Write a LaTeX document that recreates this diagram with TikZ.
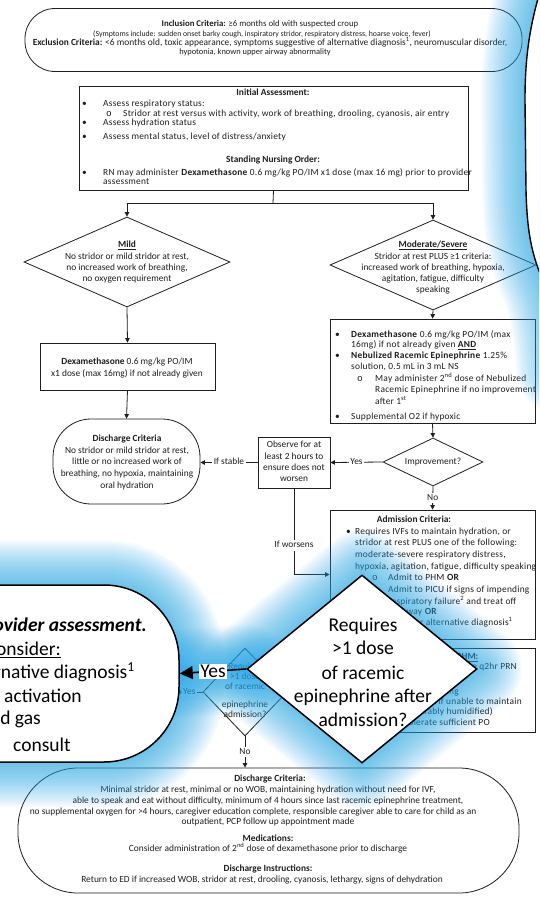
\documentclass[tikz,border=0pt]{standalone}
\usepackage{fontspec}
\setmainfont{Carlito}
\newfontfamily\spacedfam[LetterSpace=2.5,BoldFeatures={LetterSpace=2.5}]{Carlito}
\newfontfamily\monof{Liberation Mono}
\usetikzlibrary{arrows.meta,shapes.geometric}
\pgfdeclarelayer{chart}
\pgfdeclarelayer{halo}
\pgfsetlayers{chart,halo,main}
\definecolor{inkc}{RGB}{30,30,30}
\definecolor{glowc}{RGB}{40,170,235}
\newcommand{\smallfnt}{\fontsize{9.4}{11}\selectfont}
\newcommand{\listfnt}{\spacedfam\fontsize{9.4}{11}\selectfont}
\newcommand{\bigfnt}{\fontsize{19.5}{24}\selectfont}
\newcommand{\subbul}{{\monof o}}
% soft blue halo: many wide, faint strokes along a path
\newcommand{\halo}[1]{\foreach \w in {4,8,...,88}{\draw[glowc,line width=\w pt,opacity=0.045,line join=round,line cap=round] #1;}}
\begin{document}
\begin{tikzpicture}[x=1pt,y=-1pt,
  txt/.style={inner sep=0pt,font=\smallfnt,text=inkc,text height=6.6pt,text depth=2pt},
  ltxt/.style={txt,font=\listfnt,anchor=west},
  rtxt/.style={txt,font=\listfnt,anchor=east},
  btxt/.style={inner sep=0pt,font=\bigfnt,text=black,text height=13.5pt,text depth=4pt},
  chartbox/.style={draw=inkc,line width=0.8pt,inner sep=0pt,rectangle},
  dia/.style={draw=inkc,line width=0.8pt,inner sep=0pt,diamond},
  ln/.style={draw=inkc,line width=0.8pt},
  arr/.style={ln,-{Triangle[length=4.5pt,width=4.5pt]}},
  lbl/.style={txt,fill=white,inner xsep=1.5pt,inner ysep=1pt},
]
\useasboundingbox (0,0) rectangle (539,903);

\begin{pgfonlayer}{chart}
\fill[white] (0,0) rectangle (539,903);
% ---------- inclusion / exclusion ----------
\node[chartbox,rounded corners=30pt,minimum width=497pt,minimum height=63pt] (incl) at (273.5,40) {};
\node[txt,font=\fontsize{8.8}{10}\selectfont] (t1) at (260,24) {\textbf{Inclusion Criteria:} ≥6 months old with suspected croup};
\node[txt,font=\fontsize{7.8}{9}\selectfont] (t2) at (262,34) {(Symptoms include: sudden onset barky cough, inspiratory stridor, respiratory distress, hoarse voice, fever)};
\node[txt] (t3) at (270,43) {\textbf{Exclusion Criteria:} <6 months old, toxic appearance, symptoms suggestive of alternative diagnosis\textsuperscript{1}, neuromuscular disorder,};
\node[txt,font=\fontsize{8.4}{10}\selectfont] (t4) at (255,52) {hypotonia, known upper airway abnormality};

% ---------- initial assessment ----------
\node[chartbox,minimum width=389pt,minimum height=104pt] (init) at (273.5,138) {};
\node[txt] (i1) at (273,93) {\textbf{Initial Assessment:}};
\node[ltxt] (ib1) at (82,104) {•};
\node[ltxt] (i2) at (103,104) {Assess respiratory status:};
\node[ltxt] (ib2) at (106,114) {\subbul};
\node[ltxt] (i3) at (123,114) {Stridor at rest versus with activity, work of breathing, drooling, cyanosis, air entry};
\node[ltxt] (ib3) at (82,123) {•};
\node[ltxt] (i4) at (103,123) {Assess hydration status};
\node[ltxt] (ib4) at (82,137) {•};
\node[ltxt] (i5) at (103,137) {Assess mental status, level of distress/anxiety};
\node[txt] (i6) at (273,160) {\textbf{Standing Nursing Order:}};
\node[ltxt] (ib5) at (82,173) {•};
\node[ltxt] (i7) at (103,173) {RN may administer \textbf{Dexamethasone} 0.6 mg/kg PO/IM x1 dose (max 16 mg) prior to provider};
\node[ltxt] (i8) at (103,182) {assessment};

% ---------- severity split ----------
\node[dia,minimum width=206pt,minimum height=90pt] (mild) at (127,262) {};
\node[txt] (m1) at (127,245) {\underline{\textbf{Mild}}};
\node[txt] (m2) at (127,257) {No stridor or mild stridor at rest,};
\node[txt] (m3) at (127,268) {no increased work of breathing,};
\node[txt] (m4) at (127,279) {no oxygen requirement};

\node[dia,minimum width=206pt,minimum height=90pt] (mod) at (433,265) {};
\node[txt] (s1) at (433,245) {\underline{\textbf{Moderate/Severe}}};
\node[txt] (s2) at (433,257) {Stridor at rest PLUS ≥1 criteria:};
\node[txt] (s3) at (433,268) {increased work of breathing, hypoxia,};
\node[txt] (s4) at (433,279) {agitation, fatigue, difficulty};
\node[txt] (s5) at (433,290) {speaking};

\coordinate (sp) at (273,203);
\draw[ln] (init.south) -- (sp);
\draw[arr] (sp) -| (mild.north);
\draw[arr] (sp) -| (mod.north);

% ---------- mild branch ----------
\node[chartbox,minimum width=175pt,minimum height=47pt] (mdexa) at (127.5,366.5) {};
\node[txt] (d1) at (127,362) {\textbf{Dexamethasone} 0.6 mg/kg PO/IM};
\node[txt] (d2) at (127,374) {x1 dose (max 16mg) if not already given};

\node[chartbox,rounded corners=38pt,minimum width=147pt,minimum height=85pt] (dis1) at (126.5,461.5) {};
\node[txt] (e1) at (127,439) {\textbf{Discharge Criteria}};
\node[txt] (e2) at (127,451) {No stridor or mild stridor at rest,};
\node[txt] (e3) at (127,462) {little or no increased work of};
\node[txt] (e4) at (127,474) {breathing, no hypoxia, maintaining};
\node[txt] (e5) at (127,486) {oral hydration};

\draw[arr] (mild.south) -- (mdexa.north);
\draw[arr] (mdexa.south) -- (dis1.north);

% ---------- moderate / severe branch ----------
\node[chartbox,minimum width=205pt,minimum height=104pt] (treat) at (432.5,371) {};
\node[ltxt] (rb1) at (335,335) {•};
\node[ltxt] (r1) at (351,335) {\textbf{Dexamethasone} 0.6 mg/kg PO/IM (max};
\node[ltxt] (r2) at (351,345) {16mg) if not already given \underline{\textbf{AND}}};
\node[ltxt] (rb2) at (335,356) {•};
\node[ltxt] (r3) at (351,356) {\textbf{Nebulized Racemic Epinephrine} 1.25\%};
\node[ltxt] (r4) at (351,367) {solution, 0.5 mL in 3 mL NS};
\node[ltxt] (rb3) at (357,379) {\subbul};
\node[ltxt] (r5) at (375,379) {May administer 2\textsuperscript{nd} dose of Nebulized};
\node[ltxt] (r6) at (375,390) {Racemic Epinephrine if no improvement};
\node[ltxt] (r7) at (375,402) {after 1\textsuperscript{st}};
\node[ltxt] (rb4) at (335,417) {•};
\node[ltxt] (r8) at (351,417) {Supplemental O2 if hypoxic};

\node[dia,minimum width=100pt,minimum height=48pt] (impr) at (433,462) {};
\node[txt] (im) at (433,462) {Improvement?};

\node[chartbox,minimum width=72pt,minimum height=51pt] (obs) at (294,462.5) {};
\node[txt] (o1) at (294,445) {Observe for at};
\node[txt] (o2) at (294,457) {least 2 hours to};
\node[txt] (o3) at (294,468) {ensure does not};
\node[txt] (o4) at (294,479) {worsen};

\draw[arr] (mod.south) -- (treat.north);
\draw[arr] (treat.south) -- (impr.north);
\draw[arr] (impr.west) -- node[lbl] (lyes) {Yes} (obs.east);
\draw[arr] (obs.west) -- node[lbl] (lstab) {If stable} (obs.west -| dis1.east);

% ---------- admission ----------
\node[chartbox,minimum width=205pt,minimum height=129pt] (adm) at (432.5,574.5) {};
\node[txt] (a1) at (414,520) {\textbf{Admission Criteria:}};
\node[ltxt] (ab1) at (346,532) {•};
\node[ltxt] (a2) at (355,532) {Requires IVFs to maintain hydration, or};
\node[ltxt] (a3) at (355,543) {stridor at rest PLUS one of the following:};
\node[ltxt] (a4) at (355,555) {moderate-severe respiratory distress,};
\node[ltxt] (a5) at (355,567) {hypoxia, agitation, fatigue, difficulty speaking};
\node[ltxt] (ab2) at (372,578) {\subbul};
\node[ltxt] (a6) at (388,578) {Admit to PHM \textbf{OR}};
\node[ltxt] (ab3) at (372,590) {\subbul};
\node[ltxt] (a7) at (388,590) {Admit to PICU if signs of impending};
\node[ltxt] (a8) at (388,602) {respiratory failure\textsuperscript{2} and treat off};
\node[ltxt] (a9) at (388,612) {pathway \textbf{OR}};
\node[ltxt] (ab4) at (372,623) {\subbul};
\node[ltxt] (a10) at (388,623) {Consider alternative diagnosis\textsuperscript{1}};

\draw[arr] (impr.south) -- node[lbl] (lno) {No} (adm.north);
\draw[arr] (obs.south) |- node[lbl,pos=0.33] (lwor) {If worsens} (adm.west);

% ---------- treatment on the ward ----------
\node[chartbox,minimum width=205pt,minimum height=84pt] (phm) at (432.5,690) {};
\node[txt] (p1) at (440,657) {\underline{\textbf{Treatment on PHM:}}};
\node[rtxt] (p2) at (517,667) {Racemic epinephrine q2hr PRN};
\node[rtxt] (p3) at (459,692) {Continuous pulse oximetry monitoring};
\node[rtxt] (p4) at (522,702) {IVFs if unable to maintain};
\node[rtxt] (p5) at (493,712) {if hypoxic (preferably humidified)};
\node[rtxt] (p6) at (490,723) {until able to tolerate sufficient PO};

% ---------- repeat dose question ----------
\node[dia,minimum width=84pt,minimum height=88pt] (sdia) at (245,692) {};
\node[txt] (q1) at (245,667) {Requires};
\node[txt] (q2) at (245,677) {>1 dose};
\node[txt] (q3) at (245,687) {of racemic};
\node[txt] (q4) at (245,705) {epinephrine};
\node[txt] (q5) at (245,715) {admission?};
\coordinate (syes) at (176,692);
\draw[arr] (sdia.west) -- node[lbl] (lsy) {Yes} (syes);

% ---------- final discharge ----------
\node[chartbox,rounded corners=60pt,minimum width=501pt,minimum height=125pt] (dis2) at (268.5,830.5) {};
\node[txt] (f1) at (270,779) {\textbf{Discharge Criteria:}};
\node[txt] (f2) at (268,790) {Minimal stridor at rest, minimal or no WOB, maintaining hydration without need for IVF,};
\node[txt] (f3) at (268,801) {able to speak and eat without difficulty, minimum of 4 hours since last racemic epinephrine treatment,};
\node[txt] (f4) at (253,812) {no supplemental oxygen for >4 hours, caregiver education complete, responsible caregiver able to care for child as an};
\node[txt] (f5) at (268,822) {outpatient, PCP follow up appointment made};
\node[txt] (f6) at (268,839) {\textbf{Medications:}};
\node[txt] (f7) at (268,849) {Consider administration of 2\textsuperscript{nd} dose of dexamethasone prior to discharge};
\node[txt] (f8) at (268,869) {\textbf{Discharge Instructions:}};
\node[txt] (f9) at (262,880) {Return to ED if increased WOB, stridor at rest, drooling, cyanosis, lethargy, signs of dehydration};

\draw[arr] (sdia.south) -- node[lbl] (lsn) {No} (sdia.south |- dis2.north);
\end{pgfonlayer}

% ---------- enlarged callouts ----------
\begin{scope}
\clip (0,0) rectangle (539,903);
\node[draw=black,line width=1.5pt,fill=white,rounded corners=75pt,minimum width=278pt,minimum height=177pt,inner sep=0pt] (co) at (40,673.5) {};
\node[btxt,anchor=east] (c1) at (147,627) {\textbf{\textit{Provider assessment.}}};
\node[btxt,anchor=east] (c2) at (61,651) {\underline{Consider:}};
\node[btxt,anchor=east] (c3) at (135,674) {Alternative diagnosis\textsuperscript{1}};
\node[btxt,anchor=west] (c4) at (4,698) {activation};
\node[btxt,anchor=east] (c5) at (41,720) {Blood gas};
\node[btxt,anchor=west] (c6) at (13,747) {consult};

\node[diamond,draw=black,line width=1.5pt,fill=white,minimum width=230pt,minimum height=188pt,inner sep=0pt] (ovd) at (362,669) {};
\node[btxt] (v1) at (363,627) {Requires};
\node[btxt] (v2) at (363,650) {>1 dose};
\node[btxt] (v3) at (363,675) {of racemic};
\node[btxt] (v4) at (363,698) {epinephrine after};
\node[btxt] (v5) at (363,722) {admission?};

\draw[black,line width=1.6pt,-{Triangle[length=13pt,width=13pt]}] (ovd.west) -- node[fill=white,font=\bigfnt,inner sep=1pt] (vyes) {Yes} (co.east);

\fill[white] (539,-5) .. controls (529,30) and (525,60) .. (525,100) -- (526,190) .. controls (527,230) and (531,255) .. (545,285) -- (700,285) -- (700,-5) -- cycle;
\draw[black,line width=1.4pt] (539,-5) .. controls (529,30) and (525,60) .. (525,100) -- (526,190) .. controls (527,230) and (531,255) .. (545,285);
\end{scope}

\begin{pgfonlayer}{halo}
\begin{scope}
\clip (0,0) rectangle (539,903);
\halo{[rounded corners=75pt] (co.south west) rectangle (co.north east)}
\halo{(ovd.north) -- (ovd.east) -- (ovd.south) -- (ovd.west) -- cycle}
\halo{(ovd.west) -- (co.east)}
\halo{(539,-5) .. controls (529,30) and (525,60) .. (525,100) -- (526,190) .. controls (527,230) and (531,255) .. (545,285) .. controls (555,310) and (558,340) .. (560,370)}
\end{scope}
\end{pgfonlayer}
\end{tikzpicture}
\end{document}
